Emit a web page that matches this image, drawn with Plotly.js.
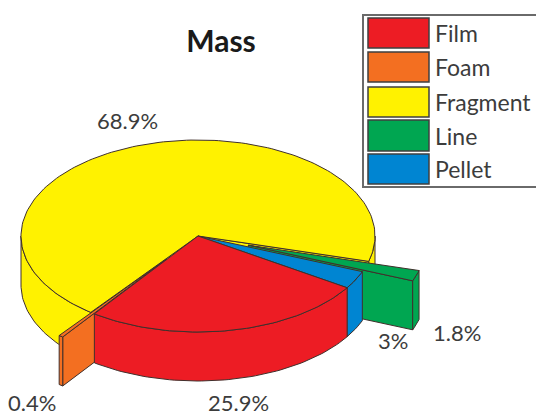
<!DOCTYPE html>
<html>
<head>
<meta charset="utf-8">
<script src="https://cdn.plot.ly/plotly-3.0.1.min.js"></script>
<style>html,body{margin:0;padding:0;background:#fff}#chart{width:536px;height:415px}</style>
</head>
<body>
<div id="chart"></div>
<script>
// Composition by mass, in percent, clockwise from the Film slice
const categories = ['Film', 'Foam', 'Fragment', 'Line', 'Pellet'];
const massShare = [25.9, 0.4, 68.9, 1.8, 3];
const sliceLabels = ['25.9%', '0.4%', '68.9%', '1.8%', '3%'];
const sliceColors = ['#ED1C24', '#F36F21', '#FFF200', '#00A651', '#0085D2'];
const explodedSlices = ['Foam', 'Line'];

// Projection of the disc onto the page
const disc = {cx: 198, cy: 236, rx: 177, ry: 96, depth: 49, explode: 0.3, startDeg: -32.6};
const outline = {color: '#40302c', width: 1};
const font = 'Lato, "Open Sans", sans-serif';
const textColor = '#3c3c3c';

const rad = d => d * Math.PI / 180;
const total = massShare.reduce((a, b) => a + b, 0);

// Walk clockwise round the disc to find each slice's angular span
let cursor = disc.startDeg;
const slices = categories.map((name, i) => {
  const sweep = massShare[i] / total * 360;
  const s = {name, color: sliceColors[i], from: cursor, to: cursor - sweep};
  cursor -= sweep;
  const mid = rad((s.from + s.to) / 2);
  const k = explodedSlices.includes(name) ? disc.explode : 0;
  s.ox = k * disc.rx * Math.cos(mid);
  s.oy = -k * disc.ry * Math.sin(mid);
  return s;
});

const rim = (s, deg) => [
  disc.cx + s.ox + disc.rx * Math.cos(rad(deg)),
  disc.cy + s.oy - disc.ry * Math.sin(rad(deg))
];
const apex = s => [disc.cx + s.ox, disc.cy + s.oy];

function arc(s, a, b) {
  const n = Math.max(2, Math.ceil(Math.abs(b - a) / 1.5));
  const pts = [];
  for (let i = 0; i <= n; i++) pts.push(rim(s, a + (b - a) * i / n));
  return pts;
}

function face(points, color, name) {
  const closed = points.concat([points[0]]);
  return {
    type: 'scatter', mode: 'lines', name,
    x: closed.map(p => p[0]), y: closed.map(p => p[1]),
    fill: 'toself', fillcolor: color, line: outline,
    hoverinfo: 'skip', showlegend: false
  };
}
const drop = p => [p[0], p[1] + disc.depth];

function topFace(s) {
  return face([apex(s)].concat(arc(s, s.from, s.to)), s.color, s.name + ' top');
}
function radialFace(s, deg) {
  const a = apex(s), r = rim(s, deg);
  return face([a, r, drop(r), drop(a)], s.color, s.name + ' side');
}
// Outer wall, restricted to the part of the arc that faces the viewer
function wall(s, a, b) {
  const pts = arc(s, a, b);
  return face(pts.concat(pts.slice().reverse().map(drop)), s.color, s.name + ' wall');
}

const [film, foam, fragment, line, pellet] = slices;
const traces = [
  wall(fragment, -180, fragment.from),
  wall(fragment, fragment.to + 360, 0),
  radialFace(fragment, fragment.from),
  radialFace(fragment, fragment.to),
  topFace(fragment),
  radialFace(line, line.to),
  wall(line, line.from, line.to),
  topFace(line),
  radialFace(foam, foam.from),
  wall(foam, foam.from, foam.to),
  topFace(foam),
  wall(pellet, pellet.from, pellet.to),
  topFace(pellet),
  wall(film, film.from, film.to),
  topFace(film)
];

// Legend box and swatches
const legendBox = {x0: 363, x1: 540, y0: 15, y1: 187};
const legendX0 = 368, legendX1 = 429, legendTextX = 433;
const legendRows = [[18, 48], [52, 82], [87, 117], [120, 151], [154, 184]];
const shapes = [{
  type: 'rect', xref: 'x', yref: 'y', ...legendBox,
  fillcolor: '#ffffff', line: {color: '#6a6a6a', width: 2}
}].concat(legendRows.map((r, i) => ({
  type: 'rect', xref: 'x', yref: 'y',
  x0: legendX0, x1: legendX1, y0: r[0], y1: r[1],
  fillcolor: sliceColors[i], line: {color: '#3f3f3f', width: 1.5}
})));

const legendLabels = categories.map((name, i) => ({
  text: name, x: legendTextX, y: (legendRows[i][0] + legendRows[i][1]) / 2,
  xref: 'x', yref: 'y', xanchor: 'left', yanchor: 'middle', showarrow: false,
  font: {family: font, size: 23, color: textColor}
}));

// Percentage labels set beside their slices
const labelAnchors = [[238, 402], [32, 402], [127, 120], [457, 332], [393, 340]];
const valueLabels = sliceLabels.map((text, i) => ({
  text, x: labelAnchors[i][0], y: labelAnchors[i][1],
  xref: 'x', yref: 'y', xanchor: 'center', yanchor: 'middle', showarrow: false,
  font: {family: font, size: 22, color: textColor}
}));

const layout = {
  width: 536, height: 415,
  margin: {l: 0, r: 0, t: 0, b: 0},
  paper_bgcolor: '#fff', plot_bgcolor: '#fff',
  title: {
    text: '<b>Mass</b>', x: 221 / 536, xanchor: 'center', y: 1 - 41 / 415, yanchor: 'middle',
    font: {family: font, size: 30, color: '#1a1a1a'}
  },
  xaxis: {range: [0, 536], visible: false, fixedrange: true},
  yaxis: {range: [415, 0], visible: false, fixedrange: true},
  showlegend: false,
  shapes,
  annotations: legendLabels.concat(valueLabels)
};

Plotly.newPlot('chart', traces, layout, {displayModeBar: false, staticPlot: true});
</script>
</body>
</html>
